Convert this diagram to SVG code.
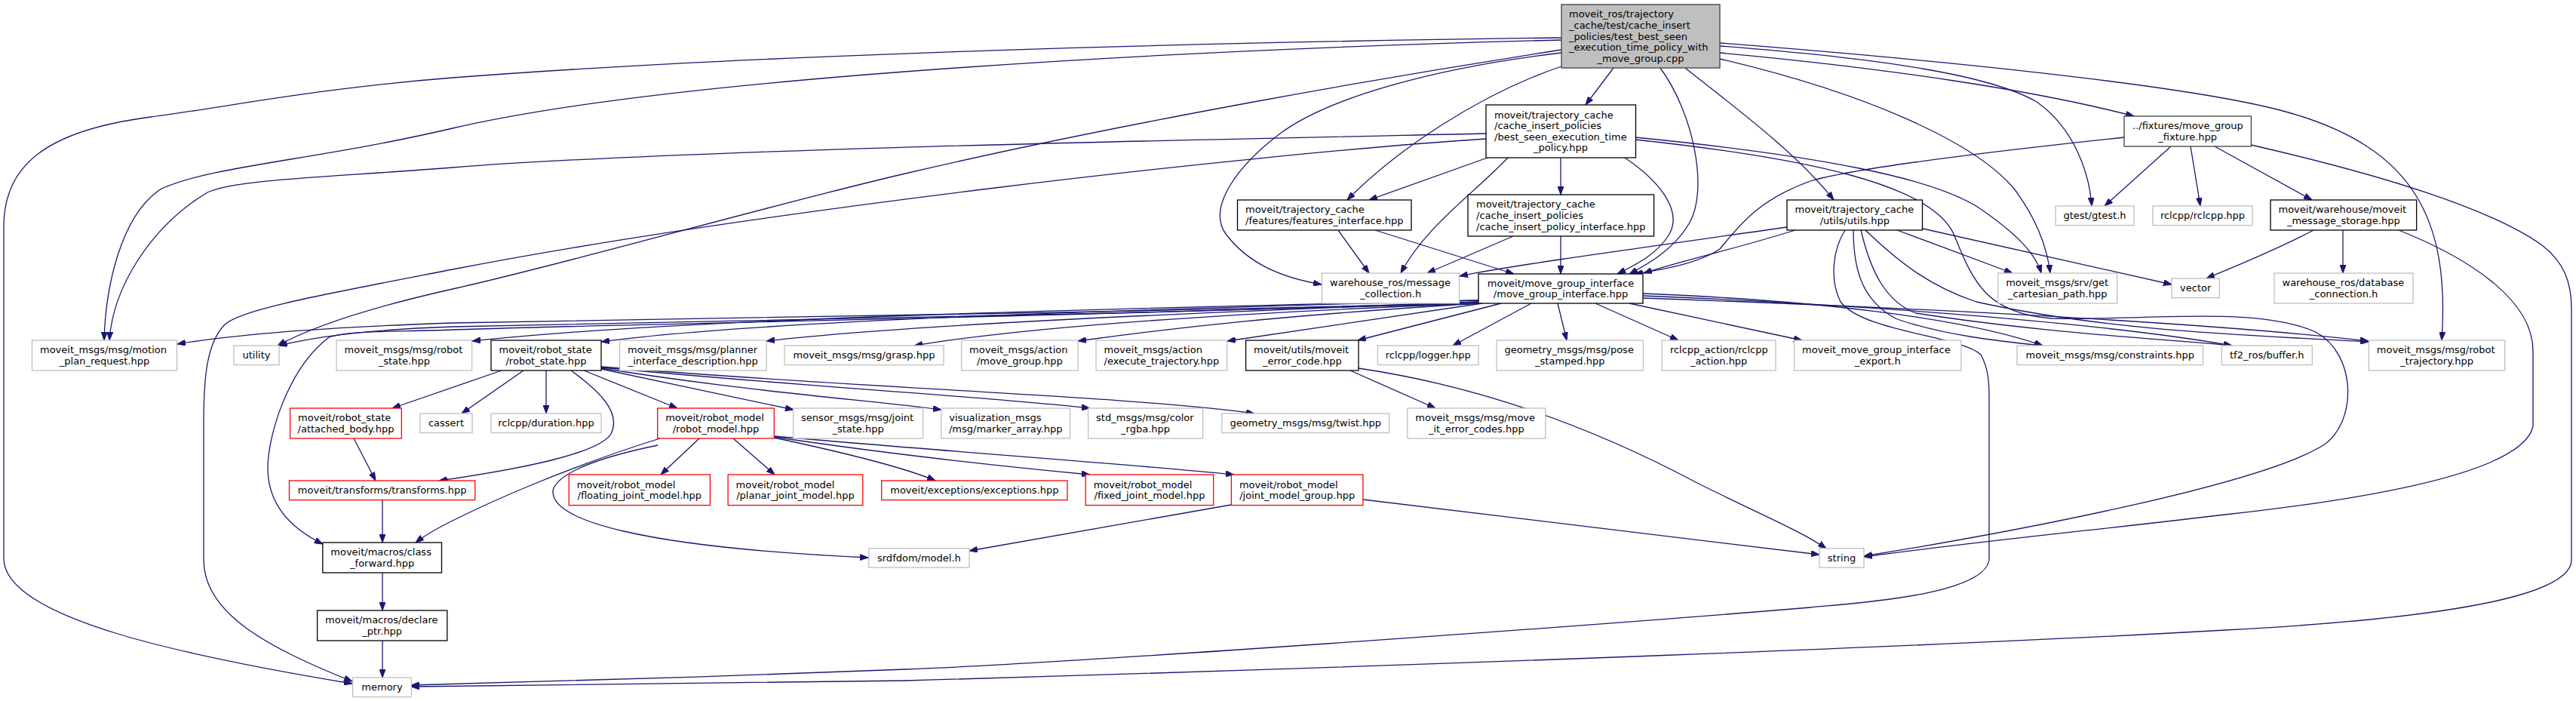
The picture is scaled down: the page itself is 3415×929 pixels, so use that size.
<svg xmlns="http://www.w3.org/2000/svg" width="3415" height="929" viewBox="0 0 3415 929">
<style>
rect{fill:#fff;stroke:#bfbfbf;stroke-width:1.3}
.d rect{stroke:#000}
.r rect{stroke:#ff0000}
.root rect{fill:#bfbfbf;stroke:#404040}
.fx rect{stroke:#404040}
text{font-family:"DejaVu Sans","Liberation Sans",sans-serif;font-size:13px;fill:#000}
.c{text-anchor:middle}
#edges path{fill:none;stroke:#191970;stroke-width:1.3;marker-end:url(#a)}
</style>
<defs><marker id="a" markerUnits="userSpaceOnUse" markerWidth="11" markerHeight="8" refX="11" refY="4" orient="auto"><path d="M0,0 L11,4 L0,8 Z" fill="#191970" stroke="#191970" stroke-width="1"/></marker></defs>
<rect x="0" y="0" width="3415" height="929" style="fill:#fff;stroke:none"/>
<g id="edges">
<path d="M2070,50 C1600,56 1000,72 600,103 C420,117 300,142 200,155 C60,173 5,220 5,300 L5,740 C5,820 250,870 467,906"/>
<path d="M2070,53 C1600,65 900,100 600,170 C420,212 280,220 214,250 C160,285 140,380 138,451"/>
<path d="M2070,66 C1850,100 1500,160 1200,230 C1000,277 750,350 600,383 C480,410 410,435 368,458"/>
<path d="M2070,70 C1900,90 1760,130 1697,177 C1640,220 1600,275 1625,310 C1655,350 1700,368 1752,377"/>
<path d="M2070,88 C1960,125 1850,200 1786,265"/>
<path d="M2139,90 L2102,139"/>
<path d="M2201,90 C2245,150 2265,250 2240,295 C2220,330 2185,350 2160,363"/>
<path d="M2234,90 C2290,135 2380,200 2431,265"/>
<path d="M2280,57 C2550,78 2900,112 3030,148 C3200,195 3248,290 3237,451"/>
<path d="M2280,61 C2500,78 2640,100 2700,135 C2750,170 2770,230 2773,273"/>
<path d="M2280,70 C2500,90 2700,120 2829,154"/>
<path d="M2280,78 C2480,125 2620,190 2670,250 C2700,290 2714,330 2718,362"/>
<path d="M1970,177 C1600,185 900,198 600,222 C420,236 310,238 275,255 C200,300 150,380 145,451"/>
<path d="M1970,184 C1650,205 1000,280 600,357 C420,392 320,410 298,430 C274,455 270,500 270,560 L270,742 C270,815 360,860 467,903"/>
<path d="M1972,209 L1815,265"/>
<path d="M1999,209 C1950,260 1890,300 1857,362"/>
<path d="M2069,209 L2069,258"/>
<path d="M2154,209 C2200,240 2232,280 2212,312 C2195,338 2170,350 2144,363"/>
<path d="M2168,182 C2400,205 2570,235 2630,280 C2680,315 2700,340 2706,362"/>
<path d="M2168,185 C2400,210 2560,245 2590,310 C2615,370 2630,415 2720,422 C2850,425 2990,405 3070,440 C3125,470 3125,560 3080,590 C3000,640 2700,700 2471,737"/>
<path d="M2006,313 L1892,362"/>
<path d="M2069,313 L2069,363"/>
<path d="M1774,305 L1815,362"/>
<path d="M1823,305 L2007,363"/>
<path d="M2369,301 C2200,325 2000,352 1935,366"/>
<path d="M2380,305 C2300,330 2220,348 2179,362"/>
<path d="M2515,305 L2668,362"/>
<path d="M2549,303 L2879,377"/>
<path d="M2457,305 C2457,360 2470,400 2515,423 C2580,445 2650,452 2708,458"/>
<path d="M2467,305 C2480,360 2500,400 2540,415 C2700,440 2850,448 2959,458"/>
<path d="M2473,305 C2520,350 2560,380 2620,400 C2800,440 3000,445 3140,453"/>
<path d="M2446,305 C2430,330 2425,370 2440,400 C2470,440 2600,445 2626,470 C2637,490 2637,510 2637,530 L2637,742 C2630,790 2450,800 2400,805 C2100,830 1400,880 1200,887 C1000,895 700,905 545,908"/>
<path d="M1960,402 C1500,414 800,424 600,428 C420,434 300,445 235,456"/>
<path d="M1960,402 C1500,416 800,430 600,433 C480,437 410,448 370,458"/>
<path d="M1960,400 C1500,418 800,430 600,437 C520,440 460,438 436,447 C380,490 355,580 355,620 C355,668 385,700 428,721"/>
<path d="M1960,398 C1500,408 900,422 626,452"/>
<path d="M1960,398 C1500,410 1000,425 797,453"/>
<path d="M1960,400 C1600,414 1200,430 1016,452"/>
<path d="M1960,402 C1600,416 1350,435 1212,458"/>
<path d="M1960,402 C1700,418 1550,435 1429,452"/>
<path d="M1965,402 L1627,452"/>
<path d="M1990,402 L1800,451"/>
<path d="M2030,402 L1926,458"/>
<path d="M2065,402 L2077,451"/>
<path d="M2115,402 L2225,451"/>
<path d="M2160,402 L2389,451"/>
<path d="M2178,389 C2400,398 2600,420 2708,458"/>
<path d="M2178,392 C2500,405 2800,430 2959,458"/>
<path d="M2178,395 C2600,410 2950,430 3140,452"/>
<path d="M665,491 L520,541"/>
<path d="M694,491 L612,548"/>
<path d="M724,491 L724,548"/>
<path d="M757,491 C790,515 825,545 810,575 C795,600 700,620 582,637"/>
<path d="M774,491 L898,541"/>
<path d="M797,489 L1052,543"/>
<path d="M797,488 C1000,520 1150,530 1248,543"/>
<path d="M797,487 C1100,515 1300,525 1445,541"/>
<path d="M797,486 C1150,515 1500,525 1663,548"/>
<path d="M875,581 C750,620 650,665 600,690 C580,700 565,708 551,719"/>
<path d="M927,581 L876,629"/>
<path d="M972,581 L1027,629"/>
<path d="M1026,580 C1120,600 1200,620 1240,637"/>
<path d="M1026,579 C1200,605 1350,620 1445,629"/>
<path d="M1026,578 C1250,598 1500,615 1636,629"/>
<path d="M872,590 C800,605 740,625 733,650 C730,690 850,725 1151,739"/>
<path d="M469,581 L498,637"/>
<path d="M507,663 L507,719"/>
<path d="M507,759 L507,809"/>
<path d="M507,849 L507,898"/>
<path d="M1790,491 L1903,541"/>
<path d="M1801,488 C1950,510 2100,560 2250,640 C2330,680 2390,705 2421,727"/>
<path d="M1632,669 L1285,730"/>
<path d="M1807,662 L2412,735"/>
<path d="M2878,194 L2790,273"/>
<path d="M2904,194 L2917,273"/>
<path d="M2936,194 L3065,265"/>
<path d="M2816,182 C2600,205 2450,225 2400,240 C2330,265 2305,300 2280,330 C2250,350 2200,358 2167,363"/>
<path d="M2984,192 C3150,230 3300,275 3370,325 C3400,348 3409,375 3409,410 L3409,742 C3409,795 3200,822 2950,835 C2600,855 1900,882 1200,902 C900,906 700,908 545,910"/>
<path d="M3067,305 C3020,330 2970,350 2925,369"/>
<path d="M3106,305 L3106,362"/>
<path d="M3180,305 C3280,345 3358,400 3358,465 L3358,565 C3345,625 3150,660 2950,682 C2800,700 2600,720 2471,738"/>
</g>
<g id="n_root" class="root"><rect x="2070" y="6" width="210" height="84"/><text x="2080" y="23.3">moveit_ros/trajectory</text><text x="2080" y="37.9">_cache/test/cache_insert</text><text x="2080" y="52.5">_policies/test_best_seen</text><text x="2080" y="67.1">_execution_time_policy_with</text><text x="2175" y="81.7" class="c">_move_group.cpp</text></g>
<g id="n_best" class="d"><rect x="1970" y="139" width="198.5" height="70"/><text x="1981" y="156.6">moveit/trajectory_cache</text><text x="1981" y="171.2">/cache_insert_policies</text><text x="1981" y="185.8">/best_seen_execution_time</text><text x="2069" y="200.4" class="c">_policy.hpp</text></g>
<g id="n_cipi" class="d"><rect x="1946" y="258" width="246.6" height="55"/><text x="1957" y="275.4">moveit/trajectory_cache</text><text x="1957" y="290">/cache_insert_policies</text><text x="2069.3" y="304.6" class="c">/cache_insert_policy_interface.hpp</text></g>
<g id="n_feat" class="d"><rect x="1640.5" y="265" width="230.5" height="40"/><text x="1651" y="282.2">moveit/trajectory_cache</text><text x="1755.8" y="296.8" class="c">/features/features_interface.hpp</text></g>
<g id="n_msgc"><rect x="1752.6" y="362" width="182" height="40"/><text x="1763" y="379.2">warehouse_ros/message</text><text x="1843.6" y="393.8" class="c">_collection.h</text></g>
<g id="n_mgi" class="d"><rect x="1960" y="363" width="218" height="39"/><text x="2069" y="379.7" class="c">moveit/move_group_interface</text><text x="2069" y="394.3" class="c">/move_group_interface.hpp</text></g>
<g id="n_fix" class="fx"><rect x="2816" y="154" width="168.4" height="40"/><text x="2827" y="171.2">../fixtures/move_group</text><text x="2900.2" y="185.8" class="c">_fixture.hpp</text></g>
<g id="n_utils" class="d"><rect x="2369" y="265" width="179.5" height="40"/><text x="2379.5" y="282.2">moveit/trajectory_cache</text><text x="2458.8" y="296.8" class="c">/utils/utils.hpp</text></g>
<g id="n_gtest"><rect x="2725" y="273" width="104" height="25.6"/><text x="2777" y="290.3" class="c">gtest/gtest.h</text></g>
<g id="n_rclcpp"><rect x="2854" y="273" width="132" height="25.6"/><text x="2920" y="290.3" class="c">rclcpp/rclcpp.hpp</text></g>
<g id="n_mstore" class="d"><rect x="3010" y="265" width="193.6" height="40"/><text x="3020.5" y="282.2">moveit/warehouse/moveit</text><text x="3106.8" y="296.8" class="c">_message_storage.hpp</text></g>
<g id="n_gcp"><rect x="2648.7" y="362" width="158" height="40"/><text x="2659.2" y="379.2">moveit_msgs/srv/get</text><text x="2727.7" y="393.8" class="c">_cartesian_path.hpp</text></g>
<g id="n_vector"><rect x="2879" y="369" width="63.3" height="25.6"/><text x="2910.7" y="386.3" class="c">vector</text></g>
<g id="n_dbc"><rect x="3015" y="362" width="184" height="40"/><text x="3025.5" y="379.2">warehouse_ros/database</text><text x="3107" y="393.8" class="c">_connection.h</text></g>
<g id="n_mpr"><rect x="42.5" y="451" width="192" height="40"/><text x="53" y="468.2">moveit_msgs/msg/motion</text><text x="138.5" y="482.8" class="c">_plan_request.hpp</text></g>
<g id="n_utility"><rect x="310" y="458" width="60" height="25.6"/><text x="340" y="475.3" class="c">utility</text></g>
<g id="n_rsmsg"><rect x="446" y="451" width="179.6" height="40"/><text x="456.5" y="468.2">moveit_msgs/msg/robot</text><text x="535.8" y="482.8" class="c">_state.hpp</text></g>
<g id="n_rs" class="d"><rect x="651" y="451" width="146" height="40"/><text x="661.5" y="468.2">moveit/robot_state</text><text x="724" y="482.8" class="c">/robot_state.hpp</text></g>
<g id="n_pid"><rect x="821.6" y="451" width="194.4" height="40"/><text x="832" y="468.2">moveit_msgs/msg/planner</text><text x="918.8" y="482.8" class="c">_interface_description.hpp</text></g>
<g id="n_grasp"><rect x="1040" y="458" width="211" height="25.6"/><text x="1145.5" y="475.3" class="c">moveit_msgs/msg/grasp.hpp</text></g>
<g id="n_amg"><rect x="1274.6" y="451" width="154.6" height="40"/><text x="1285.1" y="468.2">moveit_msgs/action</text><text x="1351.9" y="482.8" class="c">/move_group.hpp</text></g>
<g id="n_aet"><rect x="1453" y="451" width="173.7" height="40"/><text x="1463.5" y="468.2">moveit_msgs/action</text><text x="1539.9" y="482.8" class="c">/execute_trajectory.hpp</text></g>
<g id="n_mec" class="d"><rect x="1651.6" y="451" width="149.4" height="40"/><text x="1662.1" y="468.2">moveit/utils/moveit</text><text x="1726.3" y="482.8" class="c">_error_code.hpp</text></g>
<g id="n_logger"><rect x="1826.4" y="458" width="133.6" height="25.6"/><text x="1893.2" y="475.3" class="c">rclcpp/logger.hpp</text></g>
<g id="n_pose"><rect x="1984" y="451" width="194.5" height="40"/><text x="1994.5" y="468.2">geometry_msgs/msg/pose</text><text x="2081.3" y="482.8" class="c">_stamped.hpp</text></g>
<g id="n_rca"><rect x="2203.4" y="451" width="150.6" height="40"/><text x="2213.9" y="468.2">rclcpp_action/rclcpp</text><text x="2278.7" y="482.8" class="c">_action.hpp</text></g>
<g id="n_export"><rect x="2378.6" y="451" width="221.2" height="40"/><text x="2389.1" y="468.2">moveit_move_group_interface</text><text x="2489.2" y="482.8" class="c">_export.h</text></g>
<g id="n_constr"><rect x="2674" y="458" width="246.5" height="25.6"/><text x="2797.3" y="475.3" class="c">moveit_msgs/msg/constraints.hpp</text></g>
<g id="n_tf2"><rect x="2945.3" y="458" width="120" height="25.6"/><text x="3005.3" y="475.3" class="c">tf2_ros/buffer.h</text></g>
<g id="n_rtraj"><rect x="3140.3" y="451" width="180.4" height="40"/><text x="3150.8" y="468.2">moveit_msgs/msg/robot</text><text x="3230.5" y="482.8" class="c">_trajectory.hpp</text></g>
<g id="n_ab" class="r"><rect x="384.6" y="541" width="147.7" height="40"/><text x="395.1" y="558.2">moveit/robot_state</text><text x="458.5" y="572.8" class="c">/attached_body.hpp</text></g>
<g id="n_cassert"><rect x="557" y="548" width="69" height="25.6"/><text x="591.5" y="565.3" class="c">cassert</text></g>
<g id="n_dur"><rect x="651" y="548" width="146" height="25.6"/><text x="724" y="565.3" class="c">rclcpp/duration.hpp</text></g>
<g id="n_rm" class="r"><rect x="871.7" y="541" width="154.6" height="40"/><text x="882.2" y="558.2">moveit/robot_model</text><text x="949" y="572.8" class="c">/robot_model.hpp</text></g>
<g id="n_js"><rect x="1051.6" y="541" width="172" height="40"/><text x="1062.1" y="558.2">sensor_msgs/msg/joint</text><text x="1137.6" y="572.8" class="c">_state.hpp</text></g>
<g id="n_viz"><rect x="1247.8" y="541" width="170.7" height="40"/><text x="1258.3" y="558.2">visualization_msgs</text><text x="1333.2" y="572.8" class="c">/msg/marker_array.hpp</text></g>
<g id="n_rgba"><rect x="1442.6" y="541" width="152" height="40"/><text x="1453.1" y="558.2">std_msgs/msg/color</text><text x="1518.6" y="572.8" class="c">_rgba.hpp</text></g>
<g id="n_twist"><rect x="1619.8" y="548" width="222" height="25.6"/><text x="1730.8" y="565.3" class="c">geometry_msgs/msg/twist.hpp</text></g>
<g id="n_mec2"><rect x="1865.8" y="541" width="183" height="40"/><text x="1876.3" y="558.2">moveit_msgs/msg/move</text><text x="1957.3" y="572.8" class="c">_it_error_codes.hpp</text></g>
<g id="n_tf" class="r"><rect x="383.5" y="637" width="246.3" height="25.6"/><text x="506.7" y="654.3" class="c">moveit/transforms/transforms.hpp</text></g>
<g id="n_float" class="r"><rect x="754.2" y="629" width="187.2" height="40.6"/><text x="764.7" y="646.5">moveit/robot_model</text><text x="847.8" y="661.1" class="c">/floating_joint_model.hpp</text></g>
<g id="n_planar" class="r"><rect x="965.1" y="629" width="178.7" height="40.6"/><text x="975.6" y="646.5">moveit/robot_model</text><text x="1054.5" y="661.1" class="c">/planar_joint_model.hpp</text></g>
<g id="n_exc" class="r"><rect x="1168.7" y="637" width="246.3" height="25.6"/><text x="1291.9" y="654.3" class="c">moveit/exceptions/exceptions.hpp</text></g>
<g id="n_fixed" class="r"><rect x="1439.2" y="629" width="169.5" height="40.6"/><text x="1449.7" y="646.5">moveit/robot_model</text><text x="1524" y="661.1" class="c">/fixed_joint_model.hpp</text></g>
<g id="n_jmg" class="r"><rect x="1632.4" y="629" width="174.5" height="40.6"/><text x="1642.9" y="646.5">moveit/robot_model</text><text x="1719.7" y="661.1" class="c">/joint_model_group.hpp</text></g>
<g id="n_cf" class="d"><rect x="427.8" y="719" width="157.7" height="40"/><text x="438.3" y="736.2">moveit/macros/class</text><text x="506.7" y="750.8" class="c">_forward.hpp</text></g>
<g id="n_srdf"><rect x="1151.8" y="726.7" width="133.2" height="25.4"/><text x="1218.4" y="743.9" class="c">srdfdom/model.h</text></g>
<g id="n_string"><rect x="2412" y="726.7" width="59" height="25.4"/><text x="2441.5" y="743.9" class="c">string</text></g>
<g id="n_dp" class="d"><rect x="420.6" y="809" width="172.2" height="40"/><text x="431.1" y="826.2">moveit/macros/declare</text><text x="506.7" y="840.8" class="c">_ptr.hpp</text></g>
<g id="n_memory"><rect x="467.6" y="898" width="77.7" height="25.6"/><text x="506.5" y="915.3" class="c">memory</text></g>
</svg>
